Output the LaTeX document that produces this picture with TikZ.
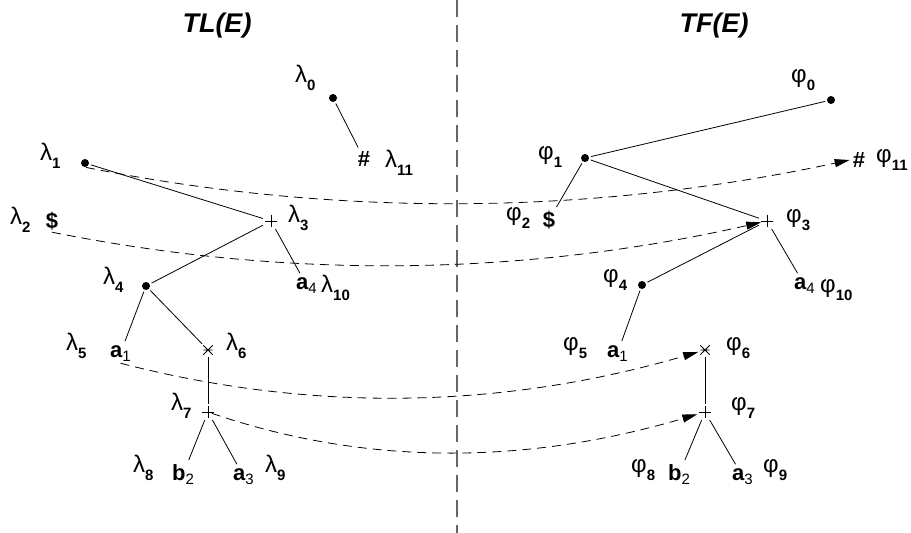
\documentclass[tikz,border=0pt]{standalone}
\usepackage{fontspec}
\setmainfont{Liberation Sans}
\usetikzlibrary{arrows.meta}
\newcommand{\glab}[2]{{\fontsize{24}{24}\selectfont #1}\raisebox{-8pt}{\fontsize{15}{15}\selectfont\bfseries #2}}
\newcommand{\symb}[2]{{\fontsize{22}{22}\selectfont\bfseries #1}\raisebox{-4pt}{\fontsize{15}{15}\selectfont #2}}
\tikzset{
  lbl/.style={anchor=base west, inner sep=0pt},
  sym/.style={anchor=base west, inner sep=2pt},
  glyph/.style={inner sep=2pt, font=\fontsize{22}{22}\selectfont\bfseries},
  dotnode/.style={circle, fill=black, inner sep=0pt, minimum size=8pt},
  opnode/.style={rectangle, inner sep=0pt, minimum size=12pt},
  edge/.style={line width=0.8pt, shorten <=2pt, shorten >=2pt},
  link/.style={line width=0.8pt, dash pattern=on 9pt off 6pt, -{Triangle[length=15pt,width=8pt]}},
  title/.style={anchor=base, font=\fontsize{27}{27}\selectfont\bfseries\itshape},
  divider/.style={line width=1.2pt, draw=black!60, dash pattern=on 17pt off 8pt}
}
\newcommand{\plusmark}[1]{\draw[line width=0.8pt] (#1.north) -- (#1.south) (#1.west) -- (#1.east);}
\newcommand{\starmark}[1]{\draw[line width=0.8pt] (#1.north west) -- (#1.south east) (#1.south west) -- (#1.north east) (#1.west) -- (#1.east);}
\begin{document}
\begin{tikzpicture}[x=1pt,y=-1pt]
\useasboundingbox (0,0) rectangle (911,533);
% divider
\coordinate (divtop) at (457,0);
\coordinate (divbot) at (457,533);
\draw[divider] (divtop) -- (divbot);
% titles
\node[title] (tl) at (217,32) {TL(E)};
\node[title] (tf) at (714,32) {TF(E)};
% ---------- left tree ----------
\node[dotnode] (d0) at (333,98) {};
\node[glyph] (hashL) at (364,159) {\#};
\node[dotnode] (d1) at (85,163) {};
\node[glyph] (dolL) at (52,221) {\$};
\node[opnode] (p3) at (271,221) {};
\node[dotnode] (d4) at (146,286) {};
\node[sym] (a4L) at (294,289) {\symb{a}{4}};
\node[sym] (a1L) at (108,357) {\symb{a}{1}};
\node[opnode, minimum size=9pt] (s6) at (208,350) {};
\node[opnode] (p7) at (208,412) {};
\node[sym] (b2L) at (170,480) {\symb{b}{2}};
\node[sym] (a3L) at (231,480) {\symb{a}{3}};
\plusmark{p3}
\plusmark{p7}
\starmark{s6}
% labels left
\node[lbl] (l0) at (295,82) {\glab{λ}{0}};
\node[lbl] (l1) at (40,160) {\glab{λ}{1}};
\node[lbl] (l2) at (10,224) {\glab{λ}{2}};
\node[lbl] (l3) at (288,222) {\glab{λ}{3}};
\node[lbl] (l4) at (103,284) {\glab{λ}{4}};
\node[lbl] (l5) at (66,350) {\glab{λ}{5}};
\node[lbl] (l6) at (226,350) {\glab{λ}{6}};
\node[lbl] (l7) at (171,410) {\glab{λ}{7}};
\node[lbl] (l8) at (133,472) {\glab{λ}{8}};
\node[lbl] (l9) at (265,472) {\glab{λ}{9}};
\node[lbl] (l10) at (321,292) {\glab{λ}{10}};
\node[lbl] (l11) at (385,167) {\glab{λ}{11}};
% edges left
\draw[edge] (d0) -- (hashL);
\draw[edge] (d1) -- (p3);
\draw[edge] (p3) -- (d4);
\draw[edge] (p3) -- (a4L);
\draw[edge] (d4) -- (a1L);
\draw[edge] (d4) -- (s6);
\draw[edge] (s6) -- (p7);
\draw[edge] (p7) -- (b2L);
\draw[edge] (p7) -- (a3L);
% ---------- right tree ----------
\node[dotnode] (e0) at (831,100) {};
\node[dotnode] (e1) at (585,158) {};
\node[glyph] (dolR) at (549,220) {\$};
\node[glyph, inner sep=3pt] (hashR) at (859,160) {\#};
\node[opnode] (q3) at (767,221) {};
\node[dotnode] (e4) at (642,285) {};
\node[sym] (a4R) at (792,289) {\symb{a}{4}};
\node[sym] (a1R) at (605,357) {\symb{a}{1}};
\node[opnode, minimum size=9pt] (t6) at (705,350) {};
\node[opnode] (q7) at (705,412) {};
\node[sym] (b2R) at (666,480) {\symb{b}{2}};
\node[sym] (a3R) at (730,480) {\symb{a}{3}};
\plusmark{q3}
\plusmark{q7}
\starmark{t6}
% labels right
\node[lbl] (f0) at (791,82) {\glab{φ}{0}};
\node[lbl] (f1) at (538,159) {\glab{φ}{1}};
\node[lbl] (f2) at (506,220) {\glab{φ}{2}};
\node[lbl] (f3) at (786,222) {\glab{φ}{3}};
\node[lbl] (f4) at (603,282) {\glab{φ}{4}};
\node[lbl] (f5) at (563,350) {\glab{φ}{5}};
\node[lbl] (f6) at (726,350) {\glab{φ}{6}};
\node[lbl] (f7) at (731,410) {\glab{φ}{7}};
\node[lbl] (f8) at (631,472) {\glab{φ}{8}};
\node[lbl] (f9) at (763,472) {\glab{φ}{9}};
\node[lbl] (f10) at (820,292) {\glab{φ}{10}};
\node[lbl] (f11) at (876,162) {\glab{φ}{11}};
% edges right
\draw[edge] (e1) -- (e0);
\draw[edge] (e1) -- (dolR);
\draw[edge] (e1) -- (q3);
\draw[edge] (q3) -- (e4);
\draw[edge] (q3) -- (a4R);
\draw[edge] (e4) -- (a1R);
\draw[edge] (t6) -- (q7);
\draw[edge] (q7) -- (b2R);
\draw[edge] (q7) -- (a3R);
% ---------- mapping arrows ----------
\draw[link, shorten <=1pt] (d1.south) .. controls (339,218) and (593,215) .. (hashR.west);
\draw[link, shorten >=6pt] (dolL.south) .. controls (286,279) and (519,277) .. (q3.center);
\draw[link, shorten >=7pt] (a1L.south) .. controls (309,412) and (499,410) .. (t6.center);
\draw[link, shorten <=4pt, shorten >=8pt] (p7.center) .. controls (369,467) and (529,464) .. (q7.center);
\end{tikzpicture}
\end{document}
